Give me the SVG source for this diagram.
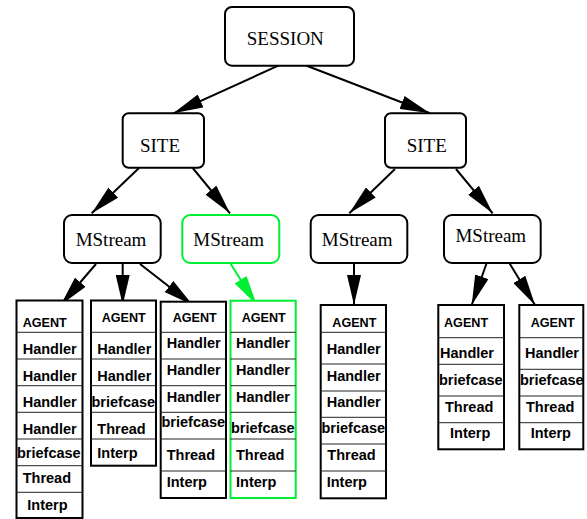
<svg xmlns="http://www.w3.org/2000/svg" width="587" height="519" viewBox="0 0 587 519">
<style>
.box{fill:#fff;stroke:#000;stroke-width:2}
.gbox{fill:#fff;stroke:#00ee33;stroke-width:2}
.rec{fill:#fff;stroke:#000;stroke-width:2}
.grec{fill:#fff;stroke:#00ee33;stroke-width:2}
.div{stroke:#222;stroke-width:1}
.lbl{font-family:"Liberation Serif","Times New Roman",serif;font-size:19px;fill:#000;text-anchor:middle}
.f{font-family:"Liberation Sans",Arial,sans-serif;font-weight:bold;font-size:14.5px;fill:#000}
.a{font-family:"Liberation Sans",Arial,sans-serif;font-weight:bold;font-size:12.6px;fill:#000}
.e{fill:none;stroke:#000;stroke-width:2}
.ge{fill:none;stroke:#00ee33;stroke-width:2}
</style>
<defs>
<marker id="ah" markerUnits="userSpaceOnUse" markerWidth="30" markerHeight="14" refX="30" refY="7" orient="auto"><path d="M0,0 L30,7 L0,14 z" fill="#000"/></marker>
<marker id="gah" markerUnits="userSpaceOnUse" markerWidth="30" markerHeight="14" refX="30" refY="7" orient="auto"><path d="M0,0 L30,7 L0,14 z" fill="#00ee33"/></marker>
</defs>
<g id="connectors">
<line class="e" x1="278.3" y1="65.7" x2="173.3" y2="113.3" marker-end="url(#ah)"/>
<line class="e" x1="306.7" y1="65.7" x2="430" y2="113.3" marker-end="url(#ah)"/>
<line class="e" x1="139" y1="168" x2="91.7" y2="213.3" marker-end="url(#ah)"/>
<line class="e" x1="192.7" y1="168" x2="230" y2="213.3" marker-end="url(#ah)"/>
<line class="e" x1="395" y1="169" x2="349.3" y2="213.3" marker-end="url(#ah)"/>
<line class="e" x1="456" y1="169" x2="492.7" y2="213.3" marker-end="url(#ah)"/>
<line class="e" x1="96" y1="264" x2="60.7" y2="305" marker-end="url(#ah)"/>
<line class="e" x1="122.7" y1="264" x2="122.7" y2="305" marker-end="url(#ah)"/>
<line class="e" x1="140" y1="264" x2="192.7" y2="305" marker-end="url(#ah)"/>
<line class="ge" x1="230.7" y1="264" x2="256.7" y2="305" marker-end="url(#gah)"/>
<line class="e" x1="354" y1="263" x2="354" y2="305" marker-end="url(#ah)"/>
<line class="e" x1="486.7" y1="263" x2="471.7" y2="305" marker-end="url(#ah)"/>
<line class="e" x1="509.3" y1="263" x2="535" y2="305" marker-end="url(#ah)"/>
</g>
<g id="session"><rect class="box" x="225" y="7" width="129" height="58.7" rx="7"/><text class="lbl" x="285.3" y="45">SESSION</text></g>
<g id="site1"><rect class="box" x="122.7" y="113.3" width="81.3" height="54.4" rx="6"/><text class="lbl" x="160" y="151.7">SITE</text></g>
<g id="site2"><rect class="box" x="385" y="113.3" width="81" height="54.4" rx="6"/><text class="lbl" x="426.7" y="151.7">SITE</text></g>
<g id="mstream1"><rect class="box" x="64" y="215" width="96.7" height="48" rx="8"/><text class="lbl" x="111" y="246">MStream</text></g>
<g id="mstream2"><rect class="gbox" x="182.3" y="215" width="97" height="48" rx="8"/><text class="lbl" x="228.7" y="246">MStream</text></g>
<g id="mstream3"><rect class="box" x="310.7" y="215" width="96.6" height="48" rx="8"/><text class="lbl" x="357.2" y="246">MStream</text></g>
<g id="mstream4"><rect class="box" x="444" y="215" width="96.7" height="48" rx="8"/><text class="lbl" x="490.8" y="241.7">MStream</text></g>
<g id="agent1">
<rect class="rec" x="16.5" y="300.5" width="66" height="217.5"/>
<path class="div" d="M16.5,332.3H82.5M16.5,359H82.5M16.5,385.7H82.5M16.5,412.3H82.5M16.5,439H82.5M16.5,465.7H82.5M16.5,492.3H82.5"/>
<text class="a" x="22.7" y="326.7">AGENT</text>
<text class="f" x="22.7" y="354">Handler</text>
<text class="f" x="22.7" y="380.7">Handler</text>
<text class="f" x="22.7" y="407.3">Handler</text>
<text class="f" x="22.7" y="434">Handler</text>
<text class="f" x="17" y="457.7">briefcase</text>
<text class="f" x="22.7" y="483.3">Thread</text>
<text class="f" x="27.3" y="510">Interp</text>
</g>
<g id="agent2">
<rect class="rec" x="91" y="300.5" width="65" height="165.2"/>
<path class="div" d="M91,332.3H156M91,359H156M91,385.7H156M91,412.3H156M91,439H156"/>
<text class="a" x="101.7" y="321.7">AGENT</text>
<text class="f" x="97.3" y="354">Handler</text>
<text class="f" x="97.3" y="380.7">Handler</text>
<text class="f" x="91.5" y="407.3">briefcase</text>
<text class="f" x="97.3" y="434">Thread</text>
<text class="f" x="97.3" y="458.3">Interp</text>
</g>
<g id="agent3">
<rect class="rec" x="160.7" y="301.7" width="65.3" height="196.3"/>
<path class="div" d="M160.7,332.3H226M160.7,359H226M160.7,385.7H226M160.7,412.3H226M160.7,439H226M160.7,471H226"/>
<text class="a" x="172.7" y="321.7">AGENT</text>
<text class="f" x="166.7" y="348.3">Handler</text>
<text class="f" x="166.7" y="375">Handler</text>
<text class="f" x="166.7" y="401.7">Handler</text>
<text class="f" x="161.5" y="427.3">briefcase</text>
<text class="f" x="166.7" y="460">Thread</text>
<text class="f" x="166.7" y="486.7">Interp</text>
</g>
<g id="agent4">
<rect class="grec" x="230.5" y="300.7" width="65.2" height="197.3"/>
<path class="div" d="M230.5,332.3H295.7M230.5,359H295.7M230.5,385.7H295.7M230.5,412.3H295.7M230.5,439H295.7M230.5,471H295.7"/>
<text class="a" x="241.7" y="321.7">AGENT</text>
<text class="f" x="236" y="348.3">Handler</text>
<text class="f" x="236" y="375">Handler</text>
<text class="f" x="236" y="401.7">Handler</text>
<text class="f" x="231" y="433.3">briefcase</text>
<text class="f" x="236" y="460">Thread</text>
<text class="f" x="236" y="486.7">Interp</text>
</g>
<g id="agent5">
<rect class="rec" x="320.7" y="305" width="65.3" height="193.3"/>
<path class="div" d="M320.7,332.3H386M320.7,364H386M320.7,391H386M320.7,417.3H386M320.7,444H386M320.7,471H386"/>
<text class="a" x="332.3" y="326.7">AGENT</text>
<text class="f" x="326.7" y="354">Handler</text>
<text class="f" x="326.7" y="380.7">Handler</text>
<text class="f" x="326.7" y="406.7">Handler</text>
<text class="f" x="321.5" y="433.3">briefcase</text>
<text class="f" x="327.3" y="460">Thread</text>
<text class="f" x="326.7" y="486.7">Interp</text>
</g>
<g id="agent6">
<rect class="rec" x="438.3" y="305" width="65.7" height="144.3"/>
<path class="div" d="M438.3,337.7H504M438.3,364.3H504M438.3,396H504M438.3,422.7H504"/>
<text class="a" x="444" y="326.7">AGENT</text>
<text class="f" x="440" y="358.3">Handler</text>
<text class="f" x="439" y="385">briefcase</text>
<text class="f" x="445" y="411.7">Thread</text>
<text class="f" x="450" y="438.3">Interp</text>
</g>
<g id="agent7">
<rect class="rec" x="519.3" y="305" width="64" height="144.3"/>
<path class="div" d="M519.3,337.7H583.3M519.3,369.3H583.3M519.3,396H583.3M519.3,422.7H583.3"/>
<text class="a" x="530.7" y="326.7">AGENT</text>
<text class="f" x="525" y="358.3">Handler</text>
<text class="f" x="520" y="385">briefcase</text>
<text class="f" x="526" y="411.7">Thread</text>
<text class="f" x="530.7" y="438.3">Interp</text>
</g>
</svg>
